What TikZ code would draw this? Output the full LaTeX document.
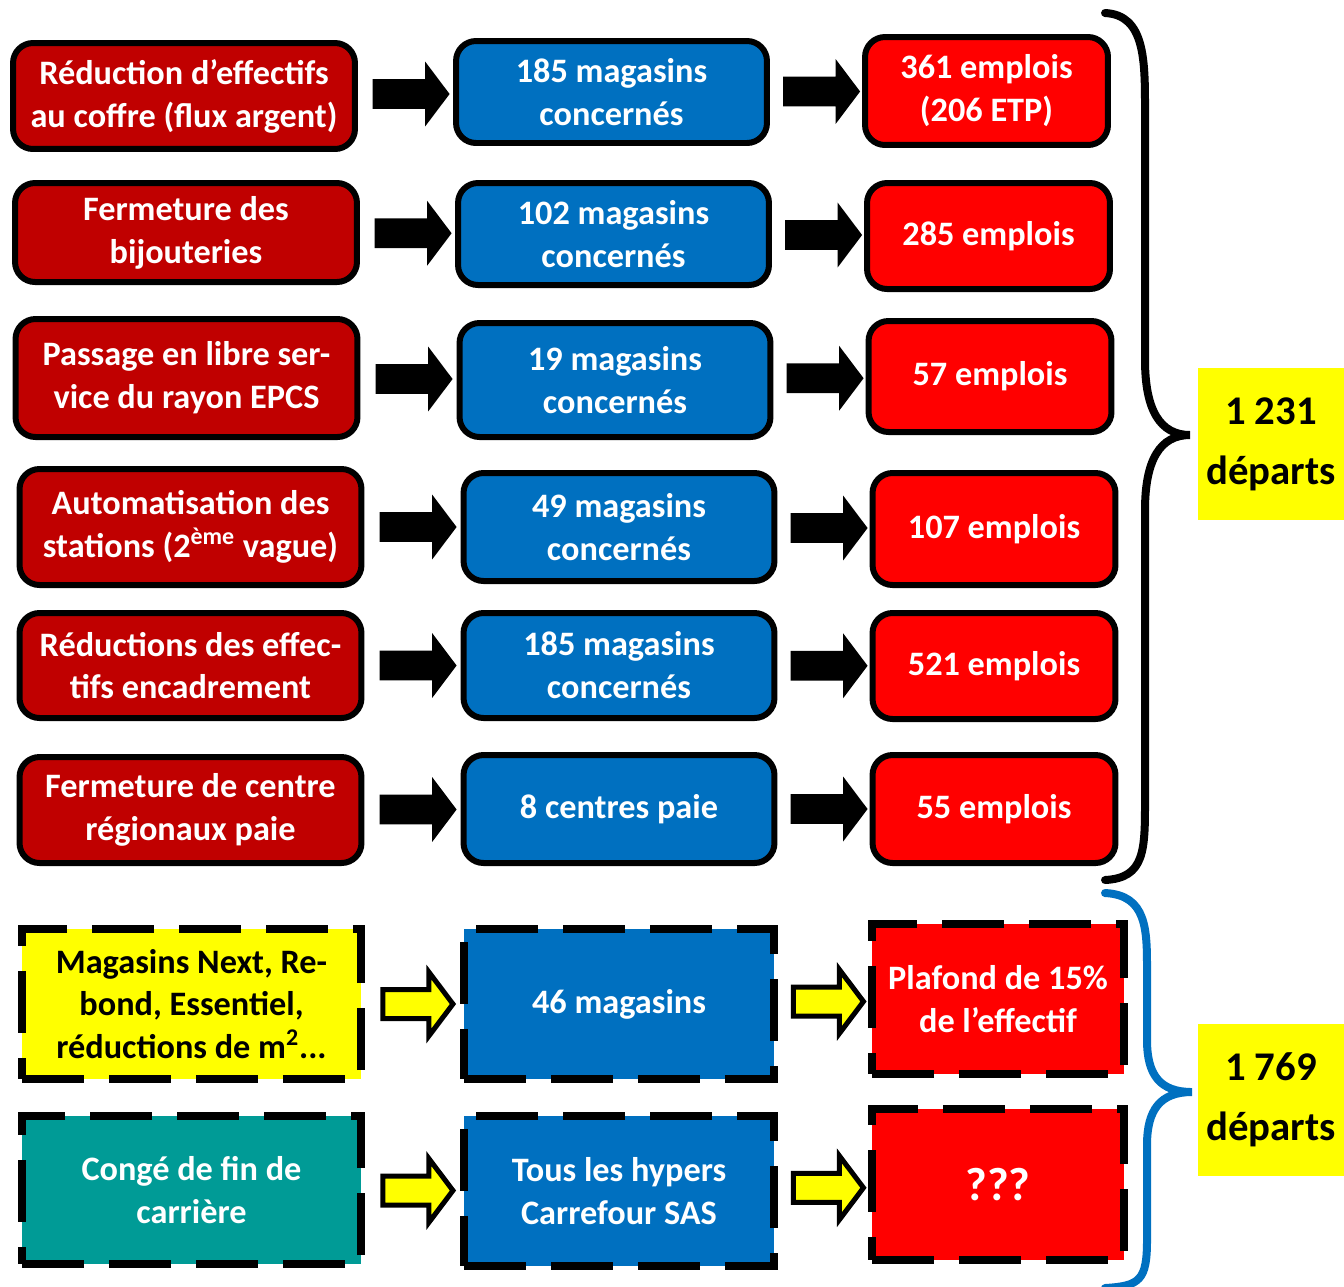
\documentclass[tikz,border=0pt]{standalone}
\usepackage{fontspec}
\setmainfont{Carlito}
\usetikzlibrary{shapes.arrows,calc}
\definecolor{causered}{RGB}{192,0,0}
\definecolor{magblue}{RGB}{0,112,192}
\definecolor{empred}{RGB}{255,0,0}
\definecolor{hiyellow}{RGB}{255,255,0}
\definecolor{depteal}{RGB}{0,155,150}
\begin{document}
\begin{tikzpicture}[x=0.02cm, y=-0.02cm,
  every node/.style={font=\bfseries\fontsize{19.5}{24.4}\selectfont, align=center, text=white, inner sep=0pt},
  box/.style={draw=black, line width=0.12cm, rounded corners=0.4cm},
  dbox/.style={draw=black, line width=0.16cm, dash pattern=on 1.24cm off 0.5cm},
  cause/.style={box, fill=causered, minimum width=6.84cm},
  mag/.style={box, fill=magblue, minimum width=6.22cm},
  emp/.style={box, fill=empred, minimum width=4.86cm},
  blkarrow/.style={single arrow, fill=black, inner xsep=0pt, inner ysep=0.29cm, minimum height=1.54cm,
    minimum width=1.28cm, single arrow head extend=0.35cm, single arrow tip angle=106},
  yelarrow/.style={single arrow, fill=hiyellow, draw=black, line width=0.1cm, inner xsep=0pt,
    inner ysep=0.24cm, minimum height=1.4cm, minimum width=1.18cm, single arrow head extend=0.35cm,
    single arrow tip angle=106},
  total/.style={fill=hiyellow, text=black, minimum width=2.92cm, minimum height=3.04cm,
    font=\bfseries\fontsize{23.2}{34}\selectfont}]
\useasboundingbox (0,0) rectangle (1344,1286);
% row 1
\node[cause, minimum height=2.12cm] (cause1) at (184,96) {Réduction d’effectifs\\au coffre (flux argent)};
\node[mag, minimum height=2.04cm] (mag1) at (611.5,92) {185 magasins\\concernés};
\node[emp, minimum height=2.16cm] (emp1) at (986.5,91) {361 emplois\\(206 ETP)};
% row 2
\node[cause, minimum height=1.98cm] (cause2) at (186,232.5) {Fermeture des\\bijouteries};
\node[mag, minimum height=2.04cm] (mag2) at (613.5,234) {102 magasins\\concernés};
\node[emp, minimum height=2.12cm] (emp2) at (988.5,236) {285 emplois};
% row 3
\node[cause, minimum height=2.36cm] (cause3) at (186.5,378) {Passage en libre ser-\\vice du rayon EPCS};
\node[mag, minimum height=2.28cm] (mag3) at (615,380) {19 magasins\\concernés};
\node[emp, minimum height=2.22cm] (emp3) at (990,376.5) {57 emplois};
% row 4
\node[cause, minimum height=2.32cm] (cause4) at (190.5,527) {Automatisation des\\stations (2\textsuperscript{ème} vague)};
\node[mag, minimum height=2.16cm] (mag4) at (619,527) {49 magasins\\concernés};
\node[emp, minimum height=2.24cm] (emp4) at (994,529) {107 emplois};
% row 5
\node[cause, minimum height=2.1cm] (cause5) at (190.5,665.5) {Réductions des effec-\\tifs encadrement};
\node[mag, minimum height=2.1cm] (mag5) at (619,665.5) {185 magasins\\concernés};
\node[emp, minimum height=2.12cm] (emp5) at (994,666) {521 emplois};
% row 6
\node[cause, minimum height=2.12cm] (cause6) at (190.5,810) {Fermeture de centre\\régionaux paie};
\node[mag, minimum height=2.16cm] (mag6) at (619,809) {8 centres paie};
\node[emp, minimum height=2.16cm] (emp6) at (994,809) {55 emplois};
% dashed rows
\node[dbox, fill=hiyellow, text=black, minimum width=6.78cm, minimum height=3cm] (cause7) at (191.5,1004) {Magasins Next, Re-\\bond, Essentiel,\\réductions de m\textsuperscript{2}...};
\node[dbox, fill=magblue, minimum width=6.2cm, minimum height=3cm] (mag7) at (619,1004) {46 magasins};
\node[dbox, fill=empred, minimum width=5.04cm, minimum height=3cm] (emp7) at (998,999) {Plafond de 15\%\\de l’effectif};
\node[dbox, fill=depteal, minimum width=6.78cm, minimum height=2.96cm] (cause8) at (191.5,1190) {Congé de fin de\\carrière};
\node[dbox, fill=magblue, minimum width=6.2cm, minimum height=3cm] (mag8) at (619,1191) {Tous les hypers\\Carrefour SAS};
\node[dbox, fill=empred, minimum width=5.04cm, minimum height=3.02cm, font=\bfseries\fontsize{26.6}{30}\selectfont] (emp8) at (998,1184.5) {???};
% arrows
\node[blkarrow] (arA1) at ($(cause1.east)!0.5!(mag1.west)$) {};
\node[blkarrow] (arB1) at ($(mag1.east)!0.5!(emp1.west)$) {};
\node[blkarrow] (arA2) at ($(cause2.east)!0.5!(mag2.west)$) {};
\node[blkarrow] (arB2) at ($(mag2.east)!0.5!(emp2.west)$) {};
\node[blkarrow] (arA3) at ($(cause3.east)!0.5!(mag3.west)$) {};
\node[blkarrow] (arB3) at ($(mag3.east)!0.5!(emp3.west)$) {};
\node[blkarrow] (arA4) at ($(cause4.east)!0.5!(mag4.west)$) {};
\node[blkarrow] (arB4) at ($(mag4.east)!0.5!(emp4.west)$) {};
\node[blkarrow] (arA5) at ($(cause5.east)!0.5!(mag5.west)$) {};
\node[blkarrow] (arB5) at ($(mag5.east)!0.5!(emp5.west)$) {};
\node[blkarrow] (arA6) at ($(cause6.east)!0.5!(mag6.west)$) {};
\node[blkarrow] (arB6) at ($(mag6.east)!0.5!(emp6.west)$) {};
\node[yelarrow] (arA7) at ($(cause7.east)!0.5!(mag7.west)$) {};
\node[yelarrow] (arB7) at ($(mag7.east)!0.5!(emp7.west)$) {};
\node[yelarrow] (arA8) at ($(cause8.east)!0.5!(mag8.west)$) {};
\node[yelarrow] (arB8) at ($(mag8.east)!0.5!(emp8.west)$) {};
% braces and totals
\draw[line width=0.16cm, line cap=round] (1105,13) .. controls (1145,15) and (1145,60) .. (1145,110)
  -- (1145,360) .. controls (1145,410) and (1160,435) .. (1190,435)
  .. controls (1160,435) and (1145,460) .. (1145,510) -- (1145,800)
  .. controls (1145,850) and (1145,878) .. (1105,880);
\draw[magblue, line width=0.16cm, line cap=round] (1105,893) .. controls (1147,895) and (1147,930) .. (1147,970)
  -- (1147,1040) .. controls (1147,1075) and (1160,1092) .. (1192,1092)
  .. controls (1160,1092) and (1147,1110) .. (1147,1145) -- (1147,1240)
  .. controls (1147,1280) and (1140,1286) .. (1105,1288);
\node[total] (tot1) at (1271,444) {1 231\\départs};
\node[total] (tot2) at (1271,1099.5) {1 769\\départs};
\end{tikzpicture}
\end{document}
